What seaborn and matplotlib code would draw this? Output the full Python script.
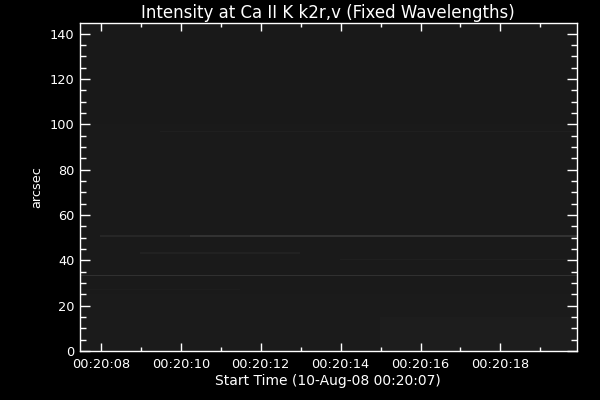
import matplotlib
matplotlib.use("Agg")
import matplotlib.pyplot as plt
import numpy as np
import seaborn as sns

# ── Data ──────────────────────────────────────────────────────────────────────

# time axis: seconds after 00:20:07, image spans 0.475 .. 12.91 s
t_first = 0.475
t_last = 12.91
t_step = 0.25
# slit axis: arcsec, 0 .. 144.6
y_last = 144.6
y_step = 0.5

# background grey level (0-255) per region: (t0, t1, y0, y1, level)
region_t0 = [0.0, 0.0, 8.0, 0.0]
region_t1 = [13.0, 13.0, 13.0, 13.0]
region_y0 = [0.0, 0.0, 0.0, 100.0]
region_y1 = [145.0, 25.0, 15.0, 145.0]
region_level = [26, 27, 29, 25]

# horizontal streaks in the slit image
streak_y = [33.4, 50.6, 43.3, 40.1, 96.5, 27.0, 50.6, 33.4]
streak_t0 = [0.6, 3.2, 2.0, 7.0, 2.5, 0.6, 0.9, 0.0]
streak_t1 = [13.0, 13.0, 6.0, 13.0, 13.0, 4.5, 3.2, 0.6]
streak_level = [48, 50, 33, 31, 31, 29, 38, 34]

x_major = [1, 3, 5, 7, 9, 11]
x_labels = ["00:20:08", "00:20:10", "00:20:12", "00:20:14", "00:20:16", "00:20:18"]
x_minor = [2, 4, 6, 8, 10, 12]
y_major = [0, 20, 40, 60, 80, 100, 120, 140]
y_minor = [5, 10, 15, 25, 30, 35, 45, 50, 55, 65, 70, 75, 85, 90, 95,
           105, 110, 115, 125, 130, 135]

# ── Build the image ───────────────────────────────────────────────────────────

n_cols = int(np.ceil((t_last - t_first) / t_step)) + 1
n_rows = int(np.ceil(y_last / y_step)) + 1
t_cent = t_first + (np.arange(n_cols) + 0.5) * t_step
y_cent = (np.arange(n_rows) + 0.5) * y_step

img = np.zeros((n_rows, n_cols))
for t0, t1, y0, y1, lev in zip(region_t0, region_t1, region_y0, region_y1, region_level):
    rows = (y_cent >= y0) & (y_cent < y1)
    cols = (t_cent >= t0) & (t_cent < t1)
    img[np.ix_(rows, cols)] = lev
for yy, t0, t1, lev in zip(streak_y, streak_t0, streak_t1, streak_level):
    r = int(yy / y_step)
    cols = (t_cent >= t0) & (t_cent < t1)
    img[r, cols] = lev


def tx(t):
    return (np.asarray(t) - t_first) / t_step


def ty(y):
    return np.asarray(y) / y_step


# ── Plot ──────────────────────────────────────────────────────────────────────

sns.set_style("ticks")
plt.rcParams["font.family"] = ["DejaVu Sans"]

fig = plt.figure(figsize=(6, 4), dpi=100, facecolor="black")
ax = fig.add_axes([80 / 600, 49 / 400, 496.7 / 600, 327.7 / 400])
ax.set_facecolor("black")

sns.heatmap(img, ax=ax, cmap="gray", vmin=0, vmax=255, cbar=False,
            xticklabels=False, yticklabels=False, rasterized=True)
ax.set_axisbelow(False)

ax.set_xlim(0, tx(t_last))
ax.set_ylim(0, ty(y_last))

for sp in ax.spines.values():
    sp.set_visible(True)
    sp.set_color("white")
    sp.set_linewidth(1.0)
    sp.set_zorder(5)

ax.set_xticks(tx(x_major))
ax.set_xticklabels(x_labels)
ax.set_xticks(tx(x_minor), minor=True)
ax.set_yticks(ty(y_major))
ax.set_yticklabels([str(v) for v in y_major], rotation=0)
ax.set_yticks(ty(y_minor), minor=True)

ax.tick_params(axis="both", which="both", direction="in", colors="white",
               labelcolor="white", labelsize=9.3, top=True, right=True, width=1)
ax.tick_params(axis="x", which="major", length=5.5, pad=5)
ax.tick_params(axis="x", which="minor", length=3)
ax.tick_params(axis="y", which="major", length=7.5, pad=4)
ax.tick_params(axis="y", which="minor", length=4.3)
ax.set_xlabel("")
ax.set_ylabel("")

fig.text(328 / 600, 1 - 13 / 400, "Intensity at Ca II K k2r,v (Fixed Wavelengths)",
         color="white", fontsize=12, ha="center", va="center")
fig.text(328 / 600, 1 - 381 / 400, "Start Time (10-Aug-08 00:20:07)",
         color="white", fontsize=10, ha="center", va="center")
fig.text(37 / 600, 1 - 187 / 400, "arcsec", color="white", fontsize=9.3,
         ha="center", va="center", rotation=90)

fig.savefig("out.png", dpi=100, facecolor="black")
